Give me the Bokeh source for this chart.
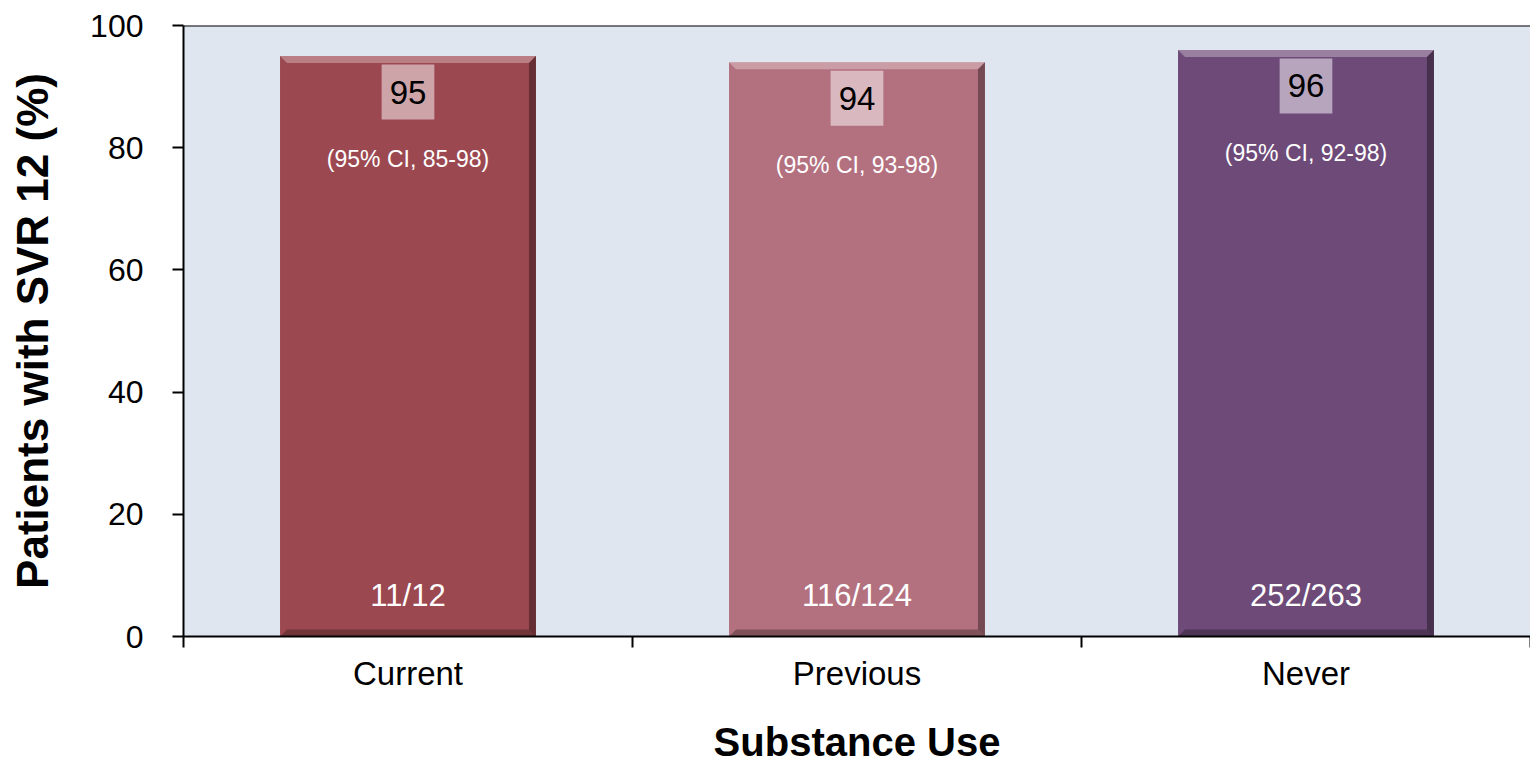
from bokeh.plotting import figure
from bokeh.models import ColumnDataSource, FixedTicker, Range1d, Span
from bokeh.core.properties import value
from bokeh.embed import file_html
from bokeh.resources import INLINE

# Data
categories = ["Current", "Previous", "Never"]
svr_pct = [95, 94, 96]
ci_labels = ["(95% CI, 85-98)", "(95% CI, 93-98)", "(95% CI, 92-98)"]
counts = ["11/12", "116/124", "252/263"]
bar_colors = ["#9B4850", "#B3717F", "#6D4A78"]
y_ticks = [0, 20, 40, 60, 80, 100]

FONT = "Liberation Sans"
W, H = 1530, 768
LEFT, TOP, BOTTOM = 183, 25, 132
frame_w = W - LEFT
frame_h = H - TOP - BOTTOM

n = len(categories)
xs = [i + 0.5 for i in range(n)]
bar_w = 0.57

p = figure(width=W, height=H, output_backend="svg", toolbar_location=None,
           x_range=Range1d(0, n), y_range=Range1d(0, 100),
           min_border_left=LEFT, min_border_right=0, min_border_top=TOP,
           min_border_bottom=BOTTOM)
p.background_fill_color = "#E0E6EF"
p.border_fill_color = "white"
p.outline_line_color = None
p.grid.visible = False

src = ColumnDataSource(dict(x=xs, top=svr_pct, color=bar_colors, cat=categories,
                            val=[str(v) for v in svr_pct], ci=ci_labels, cnt=counts,
                            zero=[0] * n))
p.vbar(x="x", top="top", width=bar_w, fill_color="color", line_color=None, source=src)

# Bevelled edges on each bar
bx = 3.0 / frame_w * 7
by = 100.0 / frame_h * 7
top_x, top_y, right_x, right_y, bot_x, bot_y = ([] for _ in range(6))
for x, v in zip(xs, svr_pct):
    l, r = x - bar_w / 2, x + bar_w / 2
    top_x.append([l, r, r - bx, l + bx]); top_y.append([v, v, v - by, v - by])
    right_x.append([r, r, r - bx, r - bx]); right_y.append([v, 0, by, v - by])
    bot_x.append([l, r, r - bx, l + bx]); bot_y.append([0, 0, by, by])
p.patches(top_x, top_y, fill_color="white", fill_alpha=0.3, line_color=None)
p.patches(bot_x, bot_y, fill_color="black", fill_alpha=0.28, line_color=None)
p.patches(right_x, right_y, fill_color="black", fill_alpha=0.35, line_color=None)

# Value labels near the bar tops
p.text(x="x", y="top", text="val", source=src, y_offset=36,
       text_align="center", text_baseline="middle", text_color="black",
       text_font=value(FONT), text_font_size="33px",
       background_fill_color="white", background_fill_alpha=0.5,
       padding=dict(left=8, right=8, top=16, bottom=16))
p.text(x="x", y="top", text="ci", source=src, y_offset=103,
       text_align="center", text_baseline="middle", text_color="white",
       text_font=value(FONT), text_font_size="23px")
p.text(x="x", y="zero", text="cnt", source=src, y_offset=-41,
       text_align="center", text_baseline="middle", text_color="white",
       text_font=value(FONT), text_font_size="31px")

p.add_layout(Span(location=100, dimension="width", line_color="black", line_width=2))

# Y axis
ya = p.yaxis[0]
ya.ticker = FixedTicker(ticks=y_ticks)
ya.minor_tick_line_color = None
ya.major_tick_out = 11
ya.major_tick_in = 0
ya.major_tick_line_width = 2
ya.axis_line_width = 2
ya.axis_line_color = "black"
ya.major_label_standoff = 29
ya.major_label_text_font = FONT
ya.major_label_text_font_size = "32px"
ya.major_label_text_color = "black"
ya.axis_label = "Patients with SVR 12 (%)"
ya.axis_label_text_font = FONT
ya.axis_label_text_font_style = "bold"
ya.axis_label_text_font_size = "44px"
ya.axis_label_text_color = "black"
ya.axis_label_standoff = 30

# X axis: labels at category centres, ticks at category boundaries
xa = p.xaxis[0]
xa.ticker = FixedTicker(ticks=xs, minor_ticks=[float(i) for i in range(n + 1)])
xa.major_label_overrides = {x: c for x, c in zip(xs, categories)}
xa.major_tick_out = 0
xa.major_tick_in = 0
xa.minor_tick_out = 11
xa.minor_tick_in = 0
xa.minor_tick_line_width = 2
xa.minor_tick_line_color = "black"
xa.axis_line_width = 2
xa.axis_line_color = "black"
xa.major_label_standoff = 7
xa.major_label_text_font = FONT
xa.major_label_text_font_size = "33px"
xa.major_label_text_color = "black"
xa.axis_label = "Substance Use"
xa.axis_label_text_font = FONT
xa.axis_label_text_font_style = "bold"
xa.axis_label_text_font_size = "40px"
xa.axis_label_text_color = "black"
xa.axis_label_standoff = 25

open("out.html", "w").write(file_html(p, INLINE))
